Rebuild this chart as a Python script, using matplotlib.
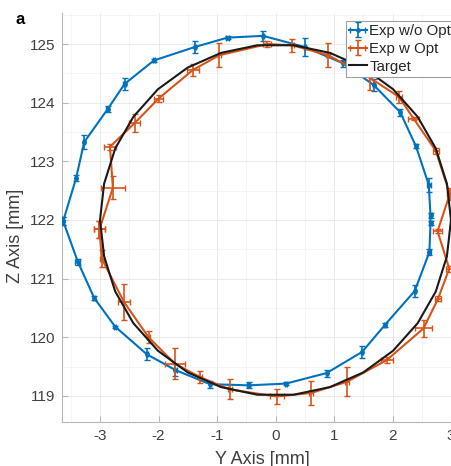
import numpy as np
import matplotlib
matplotlib.use("Agg")
from matplotlib import pyplot as plt
from matplotlib.ticker import MultipleLocator

plt.rcParams['font.family'] = ['Liberation Sans', 'DejaVu Sans']
plt.rcParams['axes.unicode_minus'] = False

# Exp w/o Opt (blue), closed loop
y_noopt = [-3.63, -3.38, -3.10, -2.74, -2.20, -1.71, -1.12, -0.46, 0.18, 0.875, 1.48, 1.87,
           2.38, 2.63, 2.65, 2.65, 2.62, 2.40, 2.13, 1.68, 1.16, 0.50, -0.21, -0.82, -1.38,
           -2.08, -2.58, -2.87, -3.27, -3.41, -3.63]
z_noopt = [121.98, 121.29, 120.67, 120.18, 119.71, 119.44, 119.20, 119.18, 119.21, 119.39, 119.75, 120.21,
           120.79, 121.45, 121.95, 122.08, 122.60, 123.26, 123.84, 124.30, 124.67, 124.95, 125.14, 125.11, 124.95,
           124.72, 124.32, 123.89, 123.33, 122.71, 121.98]
yerr_noopt = [0.07, 0.05, 0.03, 0.02, 0.10, 0.10, 0.06, 0.05, 0.03, 0.06, 0.10, 0.03,
              0.10, 0.05, 0.04, 0.04, 0.12, 0.03, 0.06, 0.10, 0.06, 0.15, 0.08, 0.02, 0.10,
              0.03, 0.10, 0.05, 0.12, 0.05, 0.07]
xerr_noopt = [0.02, 0.04, 0.02, 0.02, 0.02, 0.03, 0.02, 0.03, 0.02, 0.02, 0.02, 0.02,
              0.02, 0.02, 0.02, 0.02, 0.03, 0.02, 0.02, 0.02, 0.02, 0.02, 0.02, 0.02, 0.02,
              0.02, 0.02, 0.02, 0.02, 0.02, 0.02]

# Exp w Opt (red), closed loop
y_opt = [-3.01, -2.78, -2.83, -2.41, -2.00, -1.41, -0.96, -0.14, 0.29, 0.90, 1.62, 2.11,
         2.36, 2.74, 2.98, 2.77, 2.97, 2.78, 2.53, 1.90, 1.22, 0.61, 0.02, -0.78, -1.29,
         -1.72, -2.17, -2.59, -2.97, -3.01]
z_opt = [121.84, 122.55, 123.25, 123.65, 124.07, 124.56, 124.81, 125.00, 124.98, 124.81, 124.42, 124.10,
         123.73, 123.18, 122.44, 121.81, 121.17, 120.66, 120.15, 119.61, 119.24, 119.05, 118.99, 119.11, 119.32,
         119.55, 120.00, 120.60, 121.34, 121.84]
yerr_opt = [0.15, 0.20, 0.05, 0.15, 0.06, 0.10, 0.20, 0.05, 0.11, 0.20, 0.20, 0.10,
            0.03, 0.05, 0.10, 0.03, 0.05, 0.05, 0.15, 0.05, 0.25, 0.20, 0.12, 0.17, 0.10,
            0.27, 0.10, 0.30, 0.15, 0.15]
xerr_opt = [0.10, 0.20, 0.10, 0.10, 0.08, 0.10, 0.03, 0.07, 0.03, 0.03, 0.03, 0.05,
            0.10, 0.05, 0.05, 0.07, 0.05, 0.05, 0.14, 0.10, 0.03, 0.03, 0.12, 0.03, 0.03,
            0.17, 0.03, 0.10, 0.03, 0.10]

# Target circle vertices
y_target = [3.00, 2.93, 2.74, 2.43, 2.01, 1.50, 0.93, 0.31, -0.31, -0.93, -1.50, -2.01, -2.43,
            -2.74, -2.93, -3.00, -2.93, -2.74, -2.43, -2.01, -1.50, -0.93, -0.31, 0.31, 0.93,
            1.50, 2.01, 2.43, 2.74, 2.93, 3.00]
z_target = [122.00, 122.62, 123.22, 123.76, 124.23, 124.60, 124.85, 124.98, 124.98, 124.85, 124.60, 124.23, 123.76,
            123.22, 122.62, 122.00, 121.38, 120.78, 120.24, 119.77, 119.40, 119.15, 119.02, 119.02, 119.15,
            119.40, 119.77, 120.24, 120.78, 121.38, 122.00]

blue = '#0072BD'
red = '#D95319'
grey_txt = '#404040'

fig = plt.figure(figsize=(4.52, 4.66), dpi=100)
ax = fig.add_axes([62 / 452, 44.3 / 466, 389 / 452, 408.7 / 466])

h1 = ax.errorbar(y_noopt, z_noopt, yerr=yerr_noopt, xerr=xerr_noopt, color=blue, lw=1.5,
                 marker='.', ms=5, capsize=2, elinewidth=1.2, label='Exp w/o Opt', zorder=3)
h2 = ax.errorbar(y_opt, z_opt, yerr=yerr_opt, xerr=xerr_opt, color=red, lw=1.5,
                 capsize=2, elinewidth=1.2, label='Exp w Opt', zorder=4)
h3, = ax.plot(y_target, z_target, color='#1a1a1a', lw=1.5, label='Target', zorder=5)

ax.set_xlim(-3.65, 3.0)
ax.set_ylim(118.56, 125.53)
ax.xaxis.set_major_locator(MultipleLocator(1))
ax.yaxis.set_major_locator(MultipleLocator(1))
ax.xaxis.set_minor_locator(MultipleLocator(0.5))
ax.yaxis.set_minor_locator(MultipleLocator(0.5))
ax.grid(which='major', color='#e6e6e6', lw=0.6)
ax.grid(which='minor', color='#f2f2f2', lw=0.5)
ax.set_axisbelow(True)

for s in ['top', 'right']:
    ax.spines[s].set_visible(False)
for s in ['left', 'bottom']:
    ax.spines[s].set_color('#b8b8b8')
ax.tick_params(which='major', direction='in', length=4, color='#b8b8b8',
               labelsize=11, labelcolor=grey_txt, pad=5)
ax.tick_params(which='minor', length=0)

ax.set_xlabel('Y Axis [mm]', fontsize=13, color=grey_txt)
ax.set_ylabel('Z Axis [mm]', fontsize=13, color=grey_txt)
ax.xaxis.set_label_coords((262 - 62) / 389, (421.7 - 459) / 408.7)
ax.yaxis.set_label_coords((16 - 62) / 389, (421.7 - 236) / 408.7)
ax.xaxis.label.set_va('center')
ax.yaxis.label.set_va('center')
fig.text(15 / 452, 1 - 19 / 466, 'a', fontsize=12, fontweight='bold', ha='left', va='center')

leg = ax.legend([h1, h2, h3], ['Exp w/o Opt', 'Exp w Opt', 'Target'],
                loc='upper left', bbox_to_anchor=(284 / 389, 0.98), fontsize=10.8,
                frameon=True, fancybox=False, framealpha=1, edgecolor='#a0a0a0',
                handlelength=1.2, handletextpad=0.15, borderpad=0.2, labelspacing=0.25,
                borderaxespad=0)
leg.get_frame().set_linewidth(0.8)
for t in leg.get_texts():
    t.set_color('#262626')

fig.savefig('out.png', dpi=100)
